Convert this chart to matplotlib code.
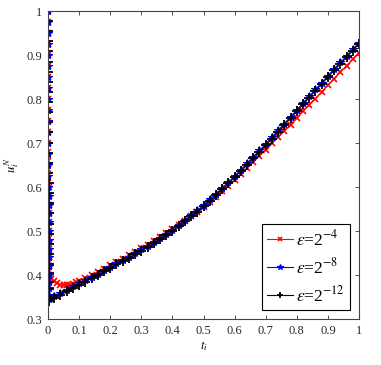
import matplotlib
matplotlib.use("Agg")
import matplotlib.pyplot as plt

# ---- data ----
# boundary-layer points (all at t ~ 0)
layer_t = [0.0, 0.0001, 0.0002, 0.0003, 0.0004, 0.0005, 0.0006, 0.0007, 0.0008, 0.0009,
           0.0010, 0.0011, 0.0012, 0.0013, 0.0014, 0.0015, 0.0016, 0.0017, 0.0018, 0.0019,
           0.0020, 0.0021, 0.0022, 0.0023, 0.0024, 0.0025, 0.0026, 0.0027, 0.0028, 0.0029]
red_layer = [1.00, 0.975, 0.95, 0.925, 0.90, 0.875, 0.85, 0.825, 0.80, 0.775,
             0.75, 0.725, 0.70, 0.68, 0.66, 0.64, 0.62, 0.60, 0.58, 0.56,
             0.54, 0.52, 0.50, 0.485, 0.47, 0.455, 0.44, 0.43, 0.42, 0.41]
blue_layer = [1.00, 0.975, 0.95, 0.925, 0.90, 0.875, 0.85, 0.825, 0.80, 0.775,
              0.75, 0.725, 0.70, 0.675, 0.65, 0.625, 0.60, 0.58, 0.56, 0.54,
              0.52, 0.50, 0.48, 0.46, 0.44, 0.42, 0.40, 0.385, 0.37, 0.355]
black_layer = [1.00, 0.977, 0.954, 0.931, 0.908, 0.885, 0.862, 0.839, 0.816, 0.793,
               0.77, 0.747, 0.724, 0.701, 0.678, 0.655, 0.632, 0.609, 0.586, 0.563,
               0.54, 0.517, 0.494, 0.471, 0.448, 0.425, 0.405, 0.385, 0.368, 0.352]

# outer region
red_t = [0.004, 0.01, 0.02, 0.03, 0.04, 0.05, 0.06, 0.07, 0.08, 0.09, 0.10,
         0.12, 0.14, 0.16, 0.18, 0.20, 0.22, 0.24, 0.26, 0.28, 0.30,
         0.32, 0.34, 0.36, 0.38, 0.40, 0.42, 0.44, 0.46, 0.48, 0.50,
         0.52, 0.54, 0.56, 0.58, 0.60, 0.62, 0.64, 0.66, 0.68, 0.70,
         0.72, 0.74, 0.76, 0.78, 0.80, 0.82, 0.84, 0.86, 0.88, 0.90,
         0.92, 0.94, 0.96, 0.98, 1.00]
red_u = [0.400, 0.392, 0.386, 0.381, 0.378, 0.377, 0.377, 0.378, 0.380, 0.383, 0.387,
         0.393, 0.400, 0.407, 0.414, 0.422, 0.430, 0.437, 0.445, 0.453, 0.461,
         0.469, 0.478, 0.486, 0.495, 0.504, 0.514, 0.523, 0.533, 0.543, 0.554,
         0.566, 0.578, 0.590, 0.603, 0.616, 0.629, 0.643, 0.657, 0.671, 0.685,
         0.699, 0.713, 0.727, 0.742, 0.757, 0.772, 0.787, 0.801, 0.816, 0.831,
         0.846, 0.861, 0.876, 0.890, 0.905]

bk_t = [0.004, 0.02, 0.04, 0.06, 0.08, 0.10, 0.12, 0.14, 0.16, 0.18, 0.20,
        0.22, 0.24, 0.26, 0.28, 0.30, 0.32, 0.34, 0.36, 0.38, 0.40,
        0.42, 0.44, 0.46, 0.48, 0.50, 0.52, 0.54, 0.56, 0.58, 0.60,
        0.62, 0.64, 0.66, 0.68, 0.70, 0.72, 0.74, 0.76, 0.78, 0.80,
        0.82, 0.84, 0.86, 0.88, 0.90, 0.92, 0.94, 0.96, 0.98, 1.00]
blue_u = [0.345, 0.352, 0.359, 0.367, 0.374, 0.381, 0.388, 0.396, 0.403, 0.411, 0.419,
          0.427, 0.434, 0.442, 0.450, 0.458, 0.467, 0.476, 0.485, 0.494, 0.503,
          0.514, 0.525, 0.536, 0.547, 0.559, 0.572, 0.585, 0.598, 0.611, 0.625,
          0.639, 0.654, 0.668, 0.683, 0.698, 0.713, 0.729, 0.744, 0.760, 0.775,
          0.791, 0.806, 0.822, 0.837, 0.853, 0.868, 0.883, 0.898, 0.913, 0.928]
black_u = [0.341, 0.348, 0.355, 0.363, 0.370, 0.377, 0.385, 0.393, 0.400, 0.408, 0.416,
           0.424, 0.431, 0.439, 0.447, 0.455, 0.464, 0.473, 0.482, 0.491, 0.500,
           0.511, 0.522, 0.533, 0.544, 0.556, 0.569, 0.582, 0.595, 0.608, 0.622,
           0.636, 0.651, 0.665, 0.680, 0.695, 0.710, 0.726, 0.741, 0.757, 0.772,
           0.788, 0.803, 0.819, 0.834, 0.850, 0.865, 0.880, 0.895, 0.910, 0.925]

labels = [r'$\varepsilon$=2$^{-4}$', r'$\varepsilon$=2$^{-8}$', r'$\varepsilon$=2$^{-12}$']
xticks = [0, 0.1, 0.2, 0.3, 0.4, 0.5, 0.6, 0.7, 0.8, 0.9, 1]
xticklabels = ['0', '0.1', '0.2', '0.3', '0.4', '0.5', '0.6', '0.7', '0.8', '0.9', '1']
yticks = [0.3, 0.4, 0.5, 0.6, 0.7, 0.8, 0.9, 1]
yticklabels = ['0.3', '0.4', '0.5', '0.6', '0.7', '0.8', '0.9', '1']

plt.rcParams['font.family'] = ['Liberation Serif', 'DejaVu Serif']
plt.rcParams['mathtext.fontset'] = 'stix'

fig = plt.figure(figsize=(3.81, 3.65), dpi=100)
ax = fig.add_axes([48/381, 1-319/365, (359-48)/381, (319-11)/365])

ax.plot(layer_t + red_t, red_layer + red_u, color='red', marker='x', ms=5, mew=1.2,
        lw=0.8, label=labels[0])
ax.plot(layer_t + bk_t, blue_layer + blue_u, color='blue', marker='*', ms=6, mew=0.8,
        lw=0.8, label=labels[1])
ax.plot(layer_t + bk_t, black_layer + black_u, color='black', marker='+', ms=7, mew=1.3,
        lw=0.8, label=labels[2])

ax.set_xlim(0, 1)
ax.set_ylim(0.3, 1)
ax.set_xticks(xticks)
ax.set_xticklabels(xticklabels)
ax.set_yticks(yticks)
ax.set_yticklabels(yticklabels)
ax.tick_params(direction='in', top=True, right=True, length=3, width=0.6,
               labelsize=9, colors='#333333', labelcolor='#2a2a2a', pad=4)
for s in ax.spines.values():
    s.set_linewidth(0.8)
    s.set_color('#444444')

ax.set_xlabel(r'$t_i$', fontsize=9, labelpad=2)
ax.set_ylabel(r'$u_i^N$', fontsize=9, labelpad=4)

leg = ax.legend(loc='lower right', fontsize=12.5, frameon=True, fancybox=False,
                edgecolor='black', framealpha=1, borderaxespad=0.5, handlelength=1.5,
                handletextpad=0.2, borderpad=0.3, labelspacing=0.45, markerscale=0.7)
leg.get_frame().set_linewidth(0.8)
for h in leg.legend_handles:
    h.set_linewidth(0.8)

fig.savefig('out.png', dpi=100)
